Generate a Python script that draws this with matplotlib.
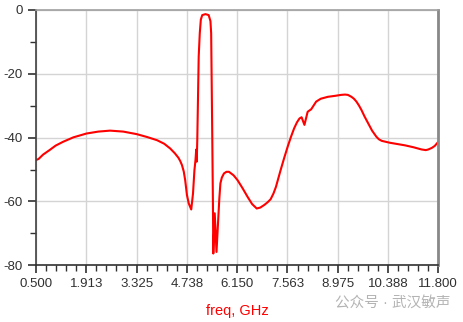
import numpy as np
import matplotlib
matplotlib.use("Agg")
import matplotlib.pyplot as plt
from matplotlib.ticker import MultipleLocator, FixedLocator

plt.rcParams['font.family'] = ['Liberation Sans', 'Noto Sans CJK SC', 'DejaVu Sans']
plt.rcParams['axes.unicode_minus'] = False

# frequency (GHz) and response (dB)
freq = [0.50, 0.57, 0.70, 0.88, 1.05, 1.26, 1.55, 1.92, 2.25, 2.58, 2.95, 3.33,
        3.62, 3.90, 4.10, 4.27, 4.40, 4.50, 4.55, 4.60, 4.65,
        4.69, 4.74, 4.79, 4.86, 4.91, 4.95, 4.98, 5.00, 5.015, 5.03, 5.07, 5.10,
        5.13, 5.17, 5.26, 5.35, 5.40, 5.42, 5.45, 5.47, 5.48, 5.52, 5.57, 5.62,
        5.65, 5.68, 5.72, 5.78, 5.85, 5.92, 6.05, 6.16, 6.30, 6.44, 6.57, 6.70,
        6.80, 6.91, 7.00, 7.09, 7.17, 7.24, 7.30, 7.37, 7.47, 7.57, 7.66,
        7.75, 7.83, 7.90, 7.96, 8.04, 8.13, 8.23, 8.37, 8.50, 8.70, 8.90, 9.07,
        9.18, 9.26, 9.36, 9.43, 9.50, 9.57, 9.64, 9.73, 9.83, 9.94, 10.06, 10.13,
        10.21, 10.44, 10.65, 10.86, 11.10, 11.33, 11.45, 11.52, 11.62, 11.70, 11.80]
db = [-47.0, -46.7, -45.3, -43.9, -42.5, -41.3, -39.9, -38.7, -38.1, -37.8, -38.1, -38.9,
      -39.8, -40.8, -41.9, -43.4, -44.9, -46.3, -47.3, -48.6, -50.6,
      -53.3, -58.0, -60.6, -62.5, -57.5, -50.2, -47.0, -43.7, -47.5, -40.8, -14.6, -7.3,
      -3.0, -1.6, -1.3, -1.6, -3.5, -7.3, -38.6, -61.0, -76.3, -63.7, -75.8, -65.2,
      -59.0, -54.3, -52.5, -51.2, -50.7, -50.7, -51.8, -53.3, -55.8, -58.5, -60.8, -62.2,
      -61.9, -61.1, -60.3, -59.3, -57.5, -55.4, -53.0, -50.2, -46.4, -42.8, -39.8,
      -37.1, -35.2, -34.0, -33.6, -36.0, -31.9, -31.1, -28.7, -27.8, -27.2, -26.9, -26.6,
      -26.5, -26.6, -27.2, -27.8, -28.7, -29.9, -31.3, -33.4, -35.5, -37.8, -39.7, -40.5,
      -41.0, -41.6, -42.0, -42.4, -43.0, -43.7, -43.9, -43.7, -43.2, -42.6, -41.3]

xticks = [0.500, 1.913, 3.325, 4.738, 6.150, 7.563, 8.975, 10.388, 11.800]
xlabels = ["0.500", "1.913", "3.325", "4.738", "6.150", "7.563", "8.975", "10.388", "11.800"]

fig = plt.figure(figsize=(4.64, 3.22), dpi=100)
ax = fig.add_axes([0.0776, 0.176, 0.867, 0.793])

ax.plot(freq, db, color="red", lw=1.5)

ax.set_xlim(0.5, 11.8)
ax.set_ylim(-80, 0)
ax.set_xticks(xticks)
ax.set_xticklabels(xlabels)
minor = []
for i in range(len(xticks) - 1):
    step = (xticks[i + 1] - xticks[i]) / 5
    minor += [xticks[i] + step * k for k in range(1, 5)]
ax.xaxis.set_minor_locator(FixedLocator(minor))
ax.yaxis.set_major_locator(MultipleLocator(20))
ax.yaxis.set_minor_locator(MultipleLocator(10))

ax.grid(True, which="major", color="#d4d4d4", lw=1)
ax.tick_params(which="major", direction="out", length=6, width=1.2,
               labelsize=9.5, colors="#303030")
ax.tick_params(which="minor", direction="out", length=4, width=1.0, color="#303030")
ax.tick_params(axis="x", pad=3)

ax.spines["left"].set_color("#404040")
ax.spines["left"].set_linewidth(1.2)
ax.spines["bottom"].set_color("#303030")
ax.spines["bottom"].set_linewidth(1.2)
ax.spines["top"].set_color("#a0a0a0")
ax.spines["top"].set_linewidth(1.2)
ax.spines["right"].set_color("#888888")
ax.spines["right"].set_linewidth(2)

ax.set_xlabel("freq, GHz", color="red", fontsize=10.5, labelpad=10)

fig.text(0.722, 0.058, "公众号 · 武汉敏声", color="#b4b4b4", fontsize=10.5,
         ha="left", va="center")

fig.savefig("out.png", dpi=100)
